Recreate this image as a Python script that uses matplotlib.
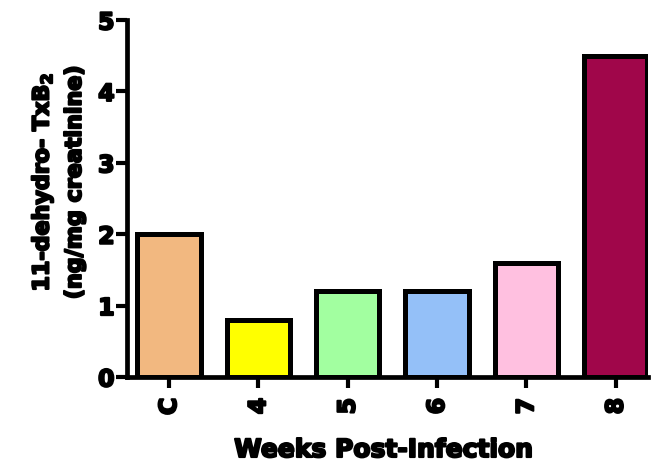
import matplotlib
matplotlib.use("Agg")
import matplotlib.pyplot as plt
import matplotlib.patheffects as pe

categories = ["C", "4", "5", "6", "7", "8"]
values = [2.0, 0.8, 1.2, 1.2, 1.6, 4.5]
colors = ["#F2B880", "#FFFF00", "#A2FFA0", "#94C0F8", "#FFC0E0", "#A0064A"]
yticks = [0, 1, 2, 3, 4, 5]

plt.rcParams["font.family"] = ["DejaVu Sans"]
plt.rcParams["font.weight"] = "bold"
plt.rcParams["mathtext.default"] = "bf"

heavy = [pe.withStroke(linewidth=1.5, foreground="black")]

fig = plt.figure(figsize=(6.55, 4.66), dpi=100)
ax = fig.add_axes([0.194, 0.191, 0.795, 0.766])

x = list(range(len(categories)))
ax.bar(x, values, width=0.71, color=colors, edgecolor="black", linewidth=3.6, zorder=3)

ax.set_ylim(0, 5)
ax.set_xlim(-0.47, 5.36)
ax.set_yticks(yticks)
ax.set_yticklabels([str(v) for v in yticks], fontsize=17, fontweight="bold")
ax.set_xticks(x)
ax.set_xticklabels(categories, rotation=90, fontsize=17, fontweight="bold")
for lbl in ax.get_xticklabels() + ax.get_yticklabels():
    lbl.set_path_effects(heavy)

for side in ("top", "right"):
    ax.spines[side].set_visible(False)
for side in ("left", "bottom"):
    ax.spines[side].set_linewidth(3.4)
ax.tick_params(axis="y", direction="out", length=8, width=3, pad=1)
ax.tick_params(axis="x", direction="out", length=8, width=3, pad=7)

xl = ax.set_xlabel("Weeks Post-Infection", fontsize=18, fontweight="bold")
xl.set_verticalalignment("top")
ax.xaxis.set_label_coords(0.493, -0.171)
yl = ax.set_ylabel("11-dehydro- TxB$_2$\n(ng/mg creatinine)", fontsize=16,
                   fontweight="bold", linespacing=1.65)
ax.yaxis.set_label_coords(-0.081, 0.546)
xl.set_path_effects(heavy)
yl.set_path_effects(heavy)

fig.savefig("out.png", dpi=100)
